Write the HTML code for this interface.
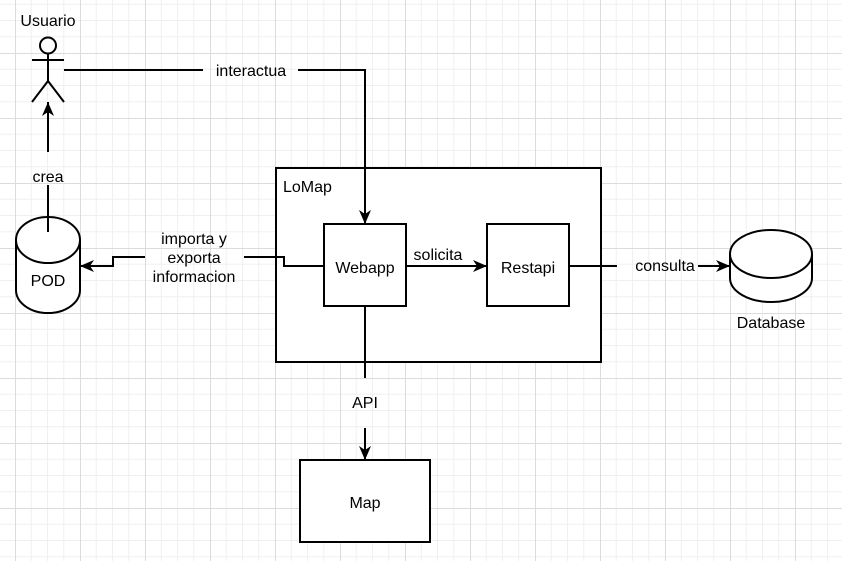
<!DOCTYPE html>
<html><head><meta charset="utf-8"><style>
html,body{margin:0;padding:0;background:#fff;}
svg{display:block;}
text{font-family:"Liberation Sans",Arial,sans-serif;font-size:16px;fill:#000;}
</style></head><body>
<svg width="842" height="561" viewBox="0 0 842 561" xmlns="http://www.w3.org/2000/svg">
<defs>
<pattern id="g" x="15" y="-12" width="65" height="65" patternUnits="userSpaceOnUse">
<path d="M16.25 0V65M32.5 0V65M48.75 0V65M0 16.25H65M0 32.5H65M0 48.75H65" stroke="#f0f0f0" stroke-width="1" fill="none"/>
<path d="M0.5 0V65M0 0.5H65" stroke="#dcdcdc" stroke-width="1" fill="none"/>
</pattern>
<marker id="a" viewBox="0 0 14 12" refX="14" refY="6" markerWidth="14" markerHeight="12" markerUnits="userSpaceOnUse" orient="auto">
<path d="M0 0L14 6L0 12L4 6Z" fill="#000"/>
</marker>
</defs>
<rect width="842" height="561" fill="url(#g)"/>
<g stroke="#000" stroke-width="2" fill="none">
<circle cx="48" cy="45.5" r="8" fill="#fff"/>
<path d="M48 54V81M32 60H64M48 81L32 102M48 81L64 102"/>
<rect x="276" y="168" width="325" height="194" fill="#fff"/>
<rect x="324" y="224" width="82" height="82" fill="#fff"/>
<rect x="487" y="224" width="82" height="82" fill="#fff"/>
<rect x="300" y="460" width="130" height="82" fill="#fff"/>
<path d="M16 240A32 23 0 0 1 80 240V290A32 23 0 0 1 16 290Z" fill="#fff"/>
<path d="M16 240A32 23 0 0 0 80 240"/>
<path d="M730 254A41 24 0 0 1 812 254V278A41 24 0 0 1 730 278Z" fill="#fff"/>
<path d="M730 254A41 24 0 0 0 812 254"/>
<path d="M48 232V185"/>
<path d="M48 152V102" marker-end="url(#a)"/>
<path d="M64 70H203"/>
<path d="M298 70H365V224" marker-end="url(#a)"/>
<path d="M324 266H284V257H244"/>
<path d="M145 257H113V266H80" marker-end="url(#a)"/>
<path d="M406 266H487" marker-end="url(#a)"/>
<path d="M569 266H617"/>
<path d="M698 266H730" marker-end="url(#a)"/>
<path d="M365 306V378"/>
<path d="M365 428V460" marker-end="url(#a)"/>
</g>
<text x="48" y="26" text-anchor="middle">Usuario</text>
<text x="251" y="76" text-anchor="middle">interactua</text>
<text x="48" y="182" text-anchor="middle">crea</text>
<text x="48" y="286" text-anchor="middle">POD</text>
<text x="194" y="244" text-anchor="middle">importa y</text>
<text x="194" y="263" text-anchor="middle">exporta</text>
<text x="194" y="282" text-anchor="middle">informacion</text>
<text x="283" y="192">LoMap</text>
<text x="365" y="273" text-anchor="middle">Webapp</text>
<text x="438" y="260" text-anchor="middle">solicita</text>
<text x="528" y="273" text-anchor="middle">Restapi</text>
<text x="665" y="271" text-anchor="middle">consulta</text>
<text x="771" y="328" text-anchor="middle">Database</text>
<text x="365" y="408" text-anchor="middle">API</text>
<text x="365" y="508" text-anchor="middle">Map</text>
</svg>
</body></html>
